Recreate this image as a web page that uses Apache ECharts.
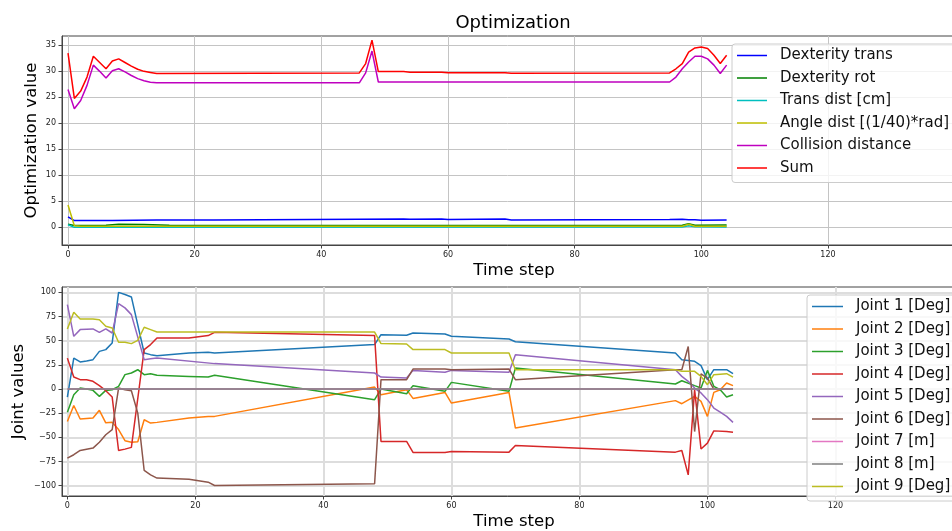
<!DOCTYPE html>
<html>
<head>
<meta charset="utf-8">
<script src="https://cdn.jsdelivr.net/npm/echarts@6/dist/echarts.min.js"></script>
<style>
html,body{margin:0;padding:0;background:#fff;}
#chart{width:952px;height:531px;}
</style>
</head>
<body>
<div id="chart"></div>
<script>
// ---------- Top plot: Optimization ----------
const topNames = ['Dexterity trans','Dexterity rot','Trans dist [cm]','Angle dist [(1/40)*rad]','Collision distance','Sum'];
const xTicksTop = [0,20,40,60,80,100,120];
const yTicksTop = [0,5,10,15,20,25,30,35];

const dexTransT = [0,1,7,14,23,46,53,54,59,60,69,70,95,97,98,99,100,104];
const dexTransV = [2.0,1.3,1.3,1.4,1.4,1.55,1.6,1.55,1.6,1.5,1.6,1.4,1.5,1.55,1.45,1.45,1.35,1.4];

const dexRotT = [0,1,6,8,12,16,95,97,98,99,104];
const dexRotV = [0.6,0.35,0.4,0.6,0.55,0.4,0.35,0.4,0.7,0.4,0.45];

const transDistT = [0,1,2,97,98,99,104];
const transDistV = [0.5,0.0,0.0,0.05,0.3,0.1,0.05];

const angleDistT = [0,1,2,95,97,98,99,104];
const angleDistV = [4.3,0.3,0.2,0.2,0.2,0.6,0.2,0.2];

const collisionT = [0,1,2,3,4,5,6,7,8,9,10,11,12,13,14,46,47,48,49,95,96,97,98,99,100,101,102,103,104];
const collisionV = [26.5,22.8,24.4,27.3,31.2,30.0,28.7,30.1,30.5,29.9,29.2,28.6,28.2,27.9,27.8,27.8,29.7,33.9,27.95,27.95,28.9,30.5,31.8,32.9,32.9,32.4,31.2,29.6,31.2];

const sumT = [0,1,2,3,4,5,6,7,8,9,10,11,12,13,14,46,47,48,49,53,54,59,60,69,70,95,96,97,98,99,100,101,102,103,104];
const sumV = [33.5,24.8,26.2,28.9,32.9,31.7,30.5,32.0,32.4,31.7,31.0,30.4,30.0,29.8,29.6,29.7,31.5,36.0,29.95,29.95,29.85,29.85,29.75,29.75,29.65,29.7,30.5,31.5,33.7,34.5,34.7,34.4,33.1,31.5,33.1];

// ---------- Bottom plot: Joint values ----------
const jointNames = ['Joint 1 [Deg]','Joint 2 [Deg]','Joint 3 [Deg]','Joint 4 [Deg]','Joint 5 [Deg]','Joint 6 [Deg]','Joint 7 [m]','Joint 8 [m]','Joint 9 [Deg]'];
const xTicksBottom = [0,20,40,60,80,100,120];
const yTicksBottom = [-100,-75,-50,-25,0,25,50,75,100];

const joint1T = [0,1,2,3,4,5,6,7,8,9,10,12,13,14,19,22,23,48,49,53,54,59,60,69,70,95,96,98,99,100,101,103,104];
const joint1V = [-8.3,32,28,29,30.4,39,40.8,47.7,100,97.8,95.3,37.3,35.6,34.5,37.3,38,37.3,46,56.3,55.6,58,57,54.6,51.8,49,37.3,30.4,28.7,24.2,9.7,20,20,15.9];

const joint2T = [0,1,2,4,5,6,7,8,9,10,11,12,13,14,19,22,23,48,49,53,54,59,60,69,70,95,96,98,99,100,101,102,103,104];
const joint2V = [-33.5,-17,-31,-30,-22,-35,-34.5,-42,-53.5,-55,-54.6,-31.8,-35.2,-34.5,-30,-28.3,-28.3,2,-6,-0.7,-9.7,-3.5,-14.5,-3.5,-40.4,-12,-15.2,-7.6,-12.8,-28.3,-3.5,-0.7,6.2,3.5];

const joint3T = [0,1,2,3,4,5,6,7,8,9,10,11,12,13,14,19,22,23,48,49,53,54,59,60,69,70,95,96,98,99,100,101,102,103,104];
const joint3V = [-24,-5.9,1,0,-1.4,-7.6,-1.4,-0.7,2.8,14.9,16.6,20,14.9,15.9,14.2,13.1,12.4,14.2,-11,0,-4.8,3.5,-2.4,6.9,-2.4,21.8,5.2,8.6,3.5,1,19.3,2.8,-0.7,-8.3,-5.9];

const joint4T = [0,1,2,3,4,5,6,7,8,9,10,12,13,14,19,22,23,48,49,53,54,59,60,69,70,95,96,97,98,99,100,101,103,104];
const joint4V = [32,12.4,9.7,9.7,8,3.5,-1.7,-8.3,-63.6,-62.2,-60.4,40.8,46,52.8,52.8,55.3,58.7,55.3,-54.2,-54.2,-65.6,-65.6,-64.6,-65.3,-58.4,-65.3,-63.6,-88.8,-0.8,-62,-56,-43.3,-43.9,-44.6];

const joint5T = [0,1,2,4,5,6,7,8,9,10,12,13,14,23,48,49,53,54,59,60,69,70,95,96,97,98,99,100,101,102,103,104];
const joint5V = [87.4,54.6,61.5,62.2,58.7,62.2,58,88.4,84,77,30.4,31.4,32.1,26.3,16.6,12.4,11.4,19.3,17.3,19.3,17.3,35.6,20,13.1,8,1,-4,-11,-19.7,-24,-28.3,-34.5];

const joint6T = [0,1,2,4,5,6,7,8,9,10,11,12,13,14,19,22,23,48,49,53,54,59,60,69,70,95,96,97,98,99,100,101,104];
const joint6V = [-71.5,-68,-63.6,-61.1,-55,-47.3,-42,1,-0.7,-1.7,-24.9,-84.3,-88.8,-92.2,-93.3,-96.4,-99.8,-98,9.7,9.7,20.7,20.7,20,20.7,9.7,20,20,44,-44,15.7,11.4,0,0];

const joint7T = [0,104];
const joint7V = [0,0];

const joint8T = [0,104];
const joint8V = [0,0];

const joint9T = [0,1,2,4,5,6,7,8,9,10,11,12,13,14,48,49,53,54,59,60,69,70,95,96,98,99,100,101,103,104];
const joint9V = [62.2,79.4,72.5,72.5,71.8,65,63.2,48.4,48.4,47,50.4,63.9,61.5,59,59,47,46.6,40.8,40.8,37.3,37.3,20,20,18.3,18.3,13.1,4.5,14.9,15.9,12.4];

// ---------- build ----------
const FONT = 'DejaVu Sans';
const pairs = (t, v) => t.map((x, i) => [x, v[i]]);
const topColors = ['#0000ff','#008000','#00bfbf','#bfbf00','#bf00bf','#ff0000'];
const jointColors = ['#1f77b4','#ff7f0e','#2ca02c','#d62728','#9467bd','#8c564b','#e377c2','#7f7f7f','#bcbd22'];
const topData = [pairs(dexTransT,dexTransV),pairs(dexRotT,dexRotV),pairs(transDistT,transDistV),pairs(angleDistT,angleDistV),pairs(collisionT,collisionV),pairs(sumT,sumV)];
const jointData = [pairs(joint1T,joint1V),pairs(joint2T,joint2V),pairs(joint3T,joint3V),pairs(joint4T,joint4V),pairs(joint5T,joint5V),pairs(joint6T,joint6V),pairs(joint7T,joint7V),pairs(joint8T,joint8V),pairs(joint9T,joint9V)];

const minusFmt = v => (v < 0 ? '\u2212' + (-v) : String(v));

function axis(o) {
  return {
    type: 'value',
    gridIndex: o.grid, min: o.min, max: o.max,
    axisLine: { show: true, onZero: false, lineStyle: { color: '#444', width: 1 } },
    axisTick: { show: true, length: 3.5, customValues: o.ticks, lineStyle: { color: '#444', width: 1 } },
    axisLabel: { show: true, customValues: o.ticks, fontFamily: FONT, fontSize: 8, color: '#222', margin: 6, formatter: minusFmt, hideOverlap: false, showMinLabel: true, showMaxLabel: true },
    splitLine: { show: true, lineStyle: { color: o.gridColor, width: o.gridWidth } },
    minorTick: { show: false }, minorSplitLine: { show: false },
    name: o.name, nameLocation: 'middle', nameGap: o.nameGap, nameMoveOverlap: false,
    nameTextStyle: { fontFamily: FONT, fontSize: 16.5, color: '#000' }
  };
}
const legendBase = {
  orient: 'vertical', icon: 'rect', itemWidth: 30, itemHeight: 1.5, itemGap: 7.5,
  padding: [4, 30, 7, 5],
  itemStyle: { borderWidth: 0 },
  lineStyle: { width: 0 },
  backgroundColor: 'rgba(255,255,255,0.8)', borderColor: '#cccccc', borderWidth: 1, borderRadius: 3,
  textStyle: { fontFamily: FONT, fontSize: 15, lineHeight: 15, color: '#111', padding: [0, 0, 0, 8] },
  selectedMode: false
};

const series = [];
topNames.forEach((n, i) => series.push({
  name: n, type: 'line', xAxisIndex: 0, yAxisIndex: 0, data: topData[i], symbol: 'none',
  lineStyle: { color: topColors[i], width: 1.5 }, itemStyle: { color: topColors[i] }, animation: false
}));
jointNames.forEach((n, i) => series.push({
  name: n, type: 'line', xAxisIndex: 1, yAxisIndex: 1, data: jointData[i], symbol: 'none',
  lineStyle: { color: jointColors[i], width: 1.5 }, itemStyle: { color: jointColors[i] }, animation: false
}));

const chart = echarts.init(document.getElementById('chart'), null, { renderer: 'canvas' });
chart.setOption({
  animation: false,
  backgroundColor: '#fff',
  graphic: [{
    type: 'text', x: 513, y: 23,
    style: { text: 'Optimization', fontFamily: FONT, fontSize: 18, fill: '#000', align: 'center', verticalAlign: 'middle' }
  }],
  grid: [
    { left: 62, top: 36, width: 904, height: 209, show: true, borderColor: '#444', borderWidth: 1, containLabel: false, outerBoundsMode: 'none' },
    { left: 62, top: 287, width: 904, height: 209, show: true, borderColor: '#444', borderWidth: 1, containLabel: false, outerBoundsMode: 'none' }
  ],
  xAxis: [
    axis({ grid: 0, min: -0.95, max: 141.8, ticks: xTicksTop, gridColor: '#c4c4c4', gridWidth: 1, name: 'Time step', nameGap: 17 }),
    axis({ grid: 1, min: -0.84, max: 140.4, ticks: xTicksBottom, gridColor: '#dddddd', gridWidth: 2, name: 'Time step', nameGap: 17 })
  ],
  yAxis: [
    axis({ grid: 0, min: -3.4, max: 36.8, ticks: yTicksTop, gridColor: '#c4c4c4', gridWidth: 1, name: 'Optimization value', nameGap: 22 }),
    axis({ grid: 1, min: -110.7, max: 105.6, ticks: yTicksBottom, gridColor: '#dddddd', gridWidth: 2, name: 'Joint values', nameGap: 35 })
  ],
  legend: [
    Object.assign({}, legendBase, { left: 732, top: 44, data: topNames }),
    Object.assign({}, legendBase, { left: 807, top: 295, itemWidth: 31, data: jointNames })
  ],
  series: series
});
</script>
</body>
</html>
